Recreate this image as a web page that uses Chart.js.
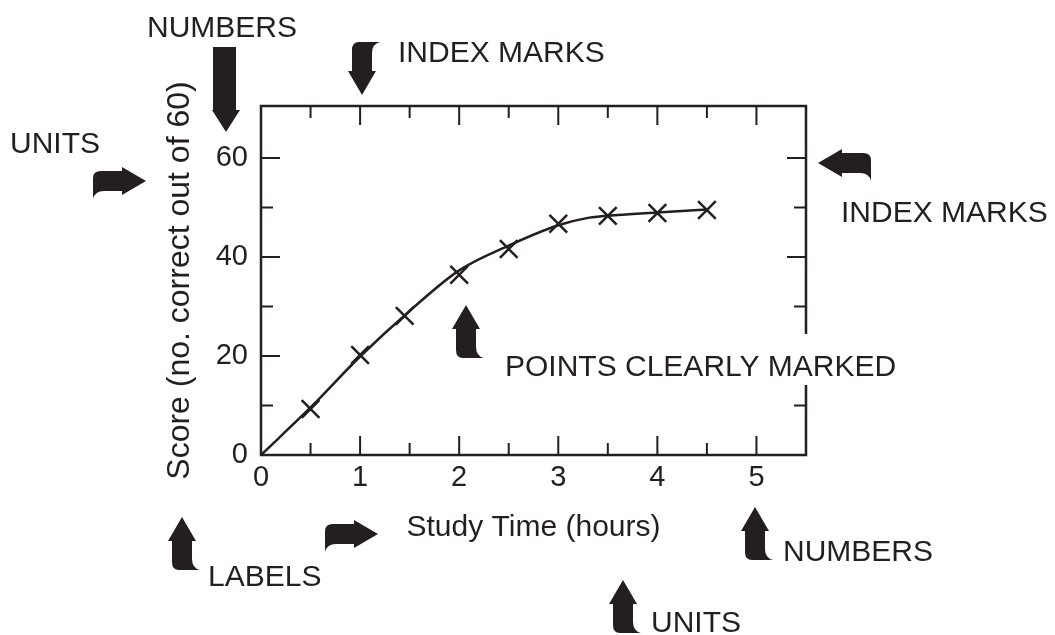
<!DOCTYPE html>
<html>
<head>
<meta charset="utf-8">
<script src="https://cdn.jsdelivr.net/npm/chart.js@4/dist/chart.umd.min.js"></script>
<style>
  html, body { margin: 0; padding: 0; background: #fff; }
  #wrap { width: 1055px; height: 635px; }
</style>
</head>
<body>
<div id="wrap"><canvas id="chart"></canvas></div>
<script>
// measured points (study time in hours, score out of 60)
const studyHours = [0.5, 1, 1.45, 2, 2.5, 3, 3.5, 4, 4.5];
const scores = [9.3, 20.2, 28.1, 36.4, 41.6, 46.7, 48.3, 48.9, 49.5];

// hand-drawn best fit curve
const curveHours = [0, 0.5, 1, 1.5, 2, 2.5, 3, 3.3, 3.6, 4, 4.5];
const curveScores = [0, 9.6, 19.9, 29.1, 37.3, 42.3, 46.4, 47.9, 48.5, 49.0, 49.6];

// tick labels and index marks
const xLabels = [0, 1, 2, 3, 4, 5];
const yLabels = [0, 20, 40, 60];
const xMajorMarks = [1, 2, 3, 4, 5];
const xMinorMarks = [0.5, 1.5, 2.5, 3.5, 4.5];
const yMajorMarks = [20, 40, 60];
const yMinorMarks = [10, 30, 50];

const INK = '#231f20';
const FONT = "'Liberation Sans', Arial, Helvetica, sans-serif";

// curled block arrow, pointing up with its tip at the origin
function arrowShape(ctx) {
    ctx.beginPath();
    ctx.moveTo(0, 0);
    ctx.lineTo(14, 24);
    ctx.lineTo(10, 24);
    ctx.lineTo(10, 42);
    ctx.quadraticCurveTo(10, 51, 18, 53);
    ctx.lineTo(-3, 53);
    ctx.quadraticCurveTo(-10, 53, -10, 45);
    ctx.lineTo(-10, 24);
    ctx.lineTo(-14, 24);
    ctx.closePath();
    ctx.fill();
}

function drawArrow(ctx, x, y, angle, flip) {
    ctx.save();
    ctx.translate(x, y);
    ctx.rotate(angle);
    ctx.scale(flip, 1);
    arrowShape(ctx);
    ctx.restore();
}

const notesPlugin = {
    id: 'notes',
    afterDraw(chart) {
        const ctx = chart.ctx;
        const xs = chart.scales.x;
        const ys = chart.scales.y;
        const a = chart.chartArea;

        ctx.save();
        ctx.strokeStyle = INK;
        ctx.fillStyle = INK;

        // frame
        ctx.lineWidth = 2.5;
        ctx.strokeRect(a.left, a.top, a.right - a.left, a.bottom - a.top);

        // index marks on all four sides, inside the frame
        ctx.lineWidth = 2;
        ctx.beginPath();
        const xMark = (v, len) => {
            const px = xs.getPixelForValue(v);
            ctx.moveTo(px, a.bottom); ctx.lineTo(px, a.bottom - len);
            ctx.moveTo(px, a.top); ctx.lineTo(px, a.top + len);
        };
        const yMark = (v, len) => {
            const py = ys.getPixelForValue(v);
            ctx.moveTo(a.left, py); ctx.lineTo(a.left + len, py);
            ctx.moveTo(a.right, py); ctx.lineTo(a.right - len, py);
        };
        xMajorMarks.forEach(v => xMark(v, 19));
        xMinorMarks.forEach(v => xMark(v, 12));
        yMajorMarks.forEach(v => yMark(v, 19));
        yMinorMarks.forEach(v => yMark(v, 12));
        ctx.stroke();

        // annotation texts
        ctx.font = '30px ' + FONT;
        ctx.textAlign = 'left';
        ctx.textBaseline = 'alphabetic';

        // the long label cuts through the right frame line
        const pw = ctx.measureText('POINTS CLEARLY MARKED').width;
        ctx.fillStyle = '#fff';
        ctx.fillRect(501, 334, pw + 8, 51);
        ctx.fillStyle = INK;

        ctx.fillText('NUMBERS', 147, 37);
        ctx.fillText('INDEX MARKS', 398, 62);
        ctx.fillText('UNITS', 10, 153);
        ctx.fillText('INDEX MARKS', 841, 222);
        ctx.fillText('POINTS CLEARLY MARKED', 505, 376);
        ctx.fillText('LABELS', 208, 586);
        ctx.fillText('NUMBERS', 783, 561);
        ctx.fillText('UNITS', 651, 632);

        // straight arrow under the top NUMBERS
        ctx.beginPath();
        ctx.moveTo(226, 132);
        ctx.lineTo(240, 110);
        ctx.lineTo(236, 110);
        ctx.lineTo(236, 47);
        ctx.lineTo(213, 47);
        ctx.lineTo(213, 110);
        ctx.lineTo(212, 110);
        ctx.closePath();
        ctx.fill();

        // curled arrows
        drawArrow(ctx, 466, 305, 0, 1);
        drawArrow(ctx, 182, 517, 0, 1);
        drawArrow(ctx, 755, 507, 0, 1);
        drawArrow(ctx, 623, 580, 0, 1);
        drawArrow(ctx, 362, 95, Math.PI, -1);
        drawArrow(ctx, 146, 181, Math.PI / 2, 1);
        drawArrow(ctx, 378, 534, Math.PI / 2, 1);
        drawArrow(ctx, 818, 163, -Math.PI / 2, -1);

        ctx.restore();
    }
};

const ctx = document.getElementById('chart').getContext('2d');

new Chart(ctx, {
    type: 'scatter',
    data: {
        datasets: [
            {
                label: 'Fit',
                data: curveHours.map((h, i) => ({ x: h, y: curveScores[i] })),
                showLine: true,
                borderColor: INK,
                borderWidth: 2.5,
                pointRadius: 0,
                cubicInterpolationMode: 'monotone',
                fill: false
            },
            {
                label: 'Score',
                data: studyHours.map((h, i) => ({ x: h, y: scores[i] })),
                showLine: false,
                pointStyle: 'crossRot',
                pointRadius: 12.5,
                pointBorderWidth: 2.5,
                borderColor: INK,
                backgroundColor: INK
            }
        ]
    },
    options: {
        responsive: true,
        maintainAspectRatio: false,
        animation: false,
        layout: {
            padding: { left: 150, top: 106, right: 249, bottom: 80 }
        },
        plugins: {
            legend: { display: false },
            tooltip: { enabled: false }
        },
        scales: {
            x: {
                type: 'linear',
                min: 0,
                max: 5.5,
                afterFit: s => { s.height = 100; },
                afterBuildTicks: s => { s.ticks = xLabels.map(v => ({ value: v })); },
                grid: { display: false, drawTicks: false },
                border: { display: false },
                ticks: {
                    color: INK,
                    padding: 6,
                    font: { family: FONT, size: 29 },
                    maxRotation: 0
                },
                title: {
                    display: true,
                    text: 'Study Time (hours)',
                    color: INK,
                    font: { family: FONT, size: 30 },
                    padding: { top: 0, bottom: 9 }
                }
            },
            y: {
                type: 'linear',
                min: 0,
                max: 70.5,
                afterFit: s => { s.width = 111; },
                afterBuildTicks: s => { s.ticks = yLabels.map(v => ({ value: v })); },
                grid: { display: false, drawTicks: false },
                border: { display: false },
                ticks: {
                    color: INK,
                    padding: 13,
                    font: { family: FONT, size: 29 }
                },
                title: {
                    display: true,
                    text: 'Score (no. correct out of 60)',
                    color: INK,
                    font: { family: FONT, size: 32 },
                    padding: { top: 11, bottom: 0 }
                }
            }
        }
    },
    plugins: [notesPlugin]
});
</script>
</body>
</html>
